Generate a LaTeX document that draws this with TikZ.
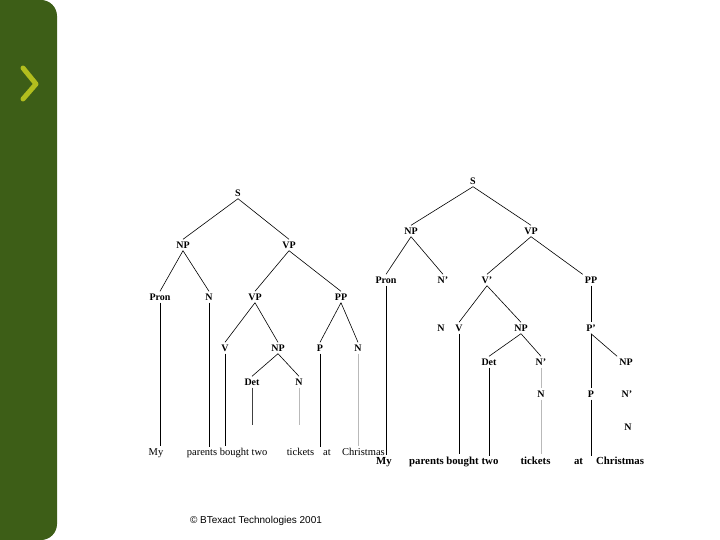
\documentclass[tikz,border=0pt]{standalone}
\usepackage{fontspec}
\setmainfont{Liberation Serif}
\newfontfamily\piefont{Liberation Sans}
\usepackage{tikz}

\definecolor{barverde}{RGB}{61,94,23}
\definecolor{flecha}{RGB}{178,190,30}

\begin{document}
\begin{tikzpicture}[x=1pt, y=-1pt,
    lab/.style={font=\bfseries\fontsize{10}{12}\selectfont, inner sep=2pt, text height=7pt, text depth=0pt},
    word/.style={font=\fontsize{10.5}{12}\selectfont, inner sep=0pt, anchor=base},
    rword/.style={word, font=\bfseries\fontsize{10.8}{12}\selectfont},
    rama/.style={line width=0.6pt},
    gris/.style={rama, gray!55}]
    \useasboundingbox (0,0) rectangle (720,540);
    \fill[barverde, rounded corners=16pt] (-30,0) rectangle (57,540);   % barra lateral
    \draw[flecha, line width=5pt, line cap=round, line join=round] (23,68) -- (36,84) -- (23,99);

    % arbol izquierdo
    \foreach \n/\x/\y/\t in {aS/238/193/S, aNP/183/245/NP, aVP/289/245/VP,
            aPron/160/297/Pron, aN/209/297/N, aVPb/255/297/VP, aPP/341/297/PP,
            aV/225/348/V, aNPb/278/348/NP, aP/320/348/P, aNb/358/348/N,
            aDet/252/382/Det, aNc/299/382/N}
        \node[lab] (\n) at (\x,\y) {\t};
    \foreach \n/\x/\t in {aMy/156/My, aParents/202/parents, aBought/234.5/bought, aTwo/259.5/two,
            aTickets/300.5/tickets, aAt/327/at, aChristmas/363.5/Christmas}
        \node[word] (\n) at (\x,455) {\t};
    \foreach \a/\b in {aS/aNP, aS/aVP, aNP/aPron, aNP/aN, aVP/aVPb, aVP/aPP,
            aVPb/aV, aVPb/aNPb, aPP/aP, aPP/aNb, aNPb/aDet, aNPb/aNc}
        \draw[rama] (\a.south) -- (\b.north);
    \foreach \a/\b in {aPron/aMy, aN/aParents, aV/aBought, aP/aAt}
        \draw[rama] (\a.south) -- ([yshift=2pt]\a.south |- \b.north);
    \draw[gris] (aNb.south) -- ([yshift=2pt]aNb.south |- aChristmas.north);
    \coordinate (aCorte) at (0,425);
    \draw[rama, black!75] (aDet.south) -- (aDet.south |- aCorte);
    \draw[gris] (aNc.south) -- (aNc.south |- aCorte);

    % arbol derecho
    \foreach \n/\x/\y/\t in {bS/473/181/S, bNP/411/231/NP, bVP/531/231/VP,
            bPron/386/280/Pron, bNa/443/280/N', bVb/487/280/V', bPP/591/280/PP,
            bN/441/328/N, bV/459/328/V, bNPb/521/328/NP, bPb/591/328/P',
            bDet/489/362/Det, bNc/541/362/N', bNPc/626/362/NP,
            bNd/541/394/N, bP/591/394/P, bNe/627/394/N',
            bNf/628/427/N}
        \node[lab] (\n) at (\x,\y) {\t};
    \foreach \n/\x/\t in {bMy/384/My, bParents/426.5/parents, bBought/462.5/bought, bTwo/490/two,
            bTickets/535.5/tickets, bAt/578.5/at, bChristmas/620/Christmas}
        \node[rword] (\n) at (\x,464) {\t};
    \foreach \a/\b in {bS/bNP, bS/bVP, bNP/bPron, bNP/bNa, bVP/bVb,
            bVb/bV, bVb/bNPb, bPP/bPb, bNPb/bDet, bNPb/bNc, bPb/bP}
        \draw[rama] (\a.south) -- (\b.north);
    \draw[rama] (bVP.south) -- (bPP.north west);
    \draw[rama] (bPb.south) -- (bNPc.north west);
    \foreach \a/\b in {bPron/bMy, bV/bBought, bDet/bTwo, bP/bAt}
        \draw[rama] (\a.south) -- ([yshift=2pt]\a.south |- \b.north);
    \draw[gris] (bNc.south) -- (bNd.north);
    \draw[gris] (bNd.south) -- ([yshift=2pt]bNd.south |- bTickets.north);

    \node[font=\piefont\fontsize{10}{12}\selectfont] (pie) at (256,521) {© BTexact Technologies 2001};
\end{tikzpicture}
\end{document}
